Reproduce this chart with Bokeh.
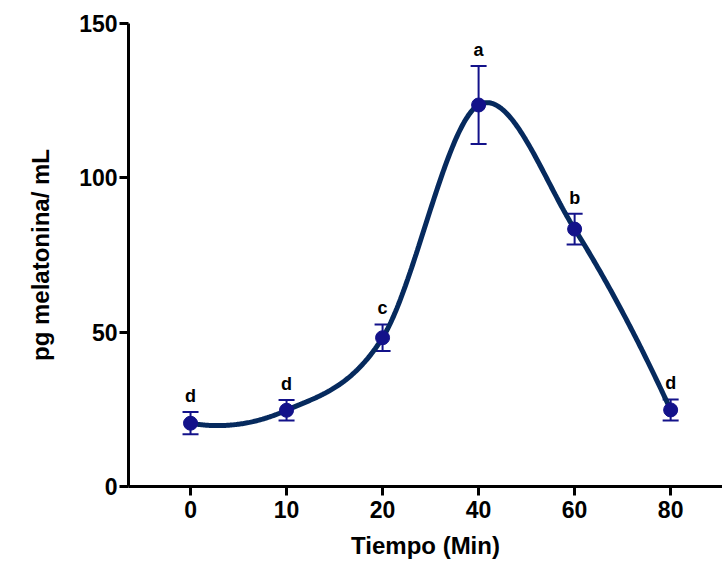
import numpy as np
from bokeh.plotting import figure
from bokeh.models import ColumnDataSource, FixedTicker, Whisker, TeeHead, Range1d
from bokeh.core.properties import value
from bokeh.embed import file_html
from bokeh.resources import INLINE

# ---- data ----
tiempo_labels = ["0", "10", "20", "40", "60", "80"]
melatonina = [20.5, 24.7, 48.2, 123.6, 83.4, 24.8]
error = [3.6, 3.3, 4.3, 12.6, 5.0, 3.4]
letras = ["d", "d", "c", "a", "b", "d"]
y_ticks = [0, 50, 100, 150]

idx = np.arange(len(tiempo_labels), dtype=float)
y = np.array(melatonina, dtype=float)
err = np.array(error, dtype=float)

# Catmull-Rom (cubic Hermite) curve through the means
def hermite_curve(xk, yk, n_seg=80):
    m = np.empty_like(yk)
    m[1:-1] = (yk[2:] - yk[:-2]) / 2.0
    m[0] = (-3 * yk[0] + 4 * yk[1] - yk[2]) / 2.0
    m[-1] = (yk[-3] - 4 * yk[-2] + 3 * yk[-1]) / 2.0
    xs, ys = [], []
    for i in range(len(xk) - 1):
        t = np.linspace(0, 1, n_seg, endpoint=(i == len(xk) - 2))
        h00 = 2 * t ** 3 - 3 * t ** 2 + 1
        h10 = t ** 3 - 2 * t ** 2 + t
        h01 = -2 * t ** 3 + 3 * t ** 2
        h11 = t ** 3 - t ** 2
        xs.append(xk[i] + t * (xk[i + 1] - xk[i]))
        ys.append(h00 * yk[i] + h10 * m[i] + h01 * yk[i + 1] + h11 * m[i + 1])
    return np.concatenate(xs), np.concatenate(ys)

cx, cy = hermite_curve(idx, y)

src = ColumnDataSource(dict(x=idx, y=y, upper=y + err, lower=y - err, lab=letras))

p = figure(width=722, height=563, output_backend="svg", toolbar_location=None,
           x_range=Range1d(-0.646, 5.54), y_range=Range1d(0, 150),
           min_border_left=128, min_border_right=0, min_border_top=23, min_border_bottom=77)
p.outline_line_color = None
p.xgrid.visible = False
p.ygrid.visible = False
p.background_fill_color = "white"
p.border_fill_color = "white"

line_color = "#062a5e"
pt_color = "#13128a"

p.line(cx, cy, line_width=5, line_color=line_color)

w = Whisker(base="x", upper="upper", lower="lower", source=src,
            line_color=pt_color, line_width=2,
            upper_head=TeeHead(size=16, line_color=pt_color, line_width=2),
            lower_head=TeeHead(size=16, line_color=pt_color, line_width=2))
p.add_layout(w)

p.scatter("x", "y", source=src, size=14, fill_color=pt_color, line_color=pt_color)

p.text("x", "upper", text="lab", source=src, y_offset=-6,
       text_align="center", text_baseline="bottom",
       text_font=value("Liberation Sans"), text_font_style="bold",
       text_font_size="18px", text_color="black")

for ax in (p.xaxis[0], p.yaxis[0]):
    ax.axis_line_width = 3
    ax.axis_line_color = "black"
    ax.major_tick_line_width = 3
    ax.major_tick_line_color = "black"
    ax.major_tick_out = 9
    ax.major_tick_in = 0
    ax.minor_tick_line_color = None
    ax.major_label_text_font = "Liberation Sans"
    ax.major_label_text_font_style = "bold"
    ax.major_label_text_font_size = "23px"
    ax.major_label_text_color = "black"
    ax.axis_label_text_font = "Liberation Sans"
    ax.axis_label_text_font_style = "bold"
    ax.axis_label_text_font_size = "24px"
    ax.axis_label_text_color = "black"

p.xaxis.ticker = FixedTicker(ticks=list(idx))
p.xaxis.major_label_overrides = {int(i): t for i, t in enumerate(tiempo_labels)}
p.xaxis.axis_label = "Tiempo (Min)"
p.xaxis.major_label_standoff = 5
p.xaxis.axis_label_standoff = 11

p.yaxis.ticker = FixedTicker(ticks=y_ticks)
p.yaxis.axis_label = "pg melatonina/ mL"
p.yaxis.major_label_standoff = 2
p.yaxis.axis_label_standoff = 22

open("out.html", "w").write(file_html(p, INLINE))
